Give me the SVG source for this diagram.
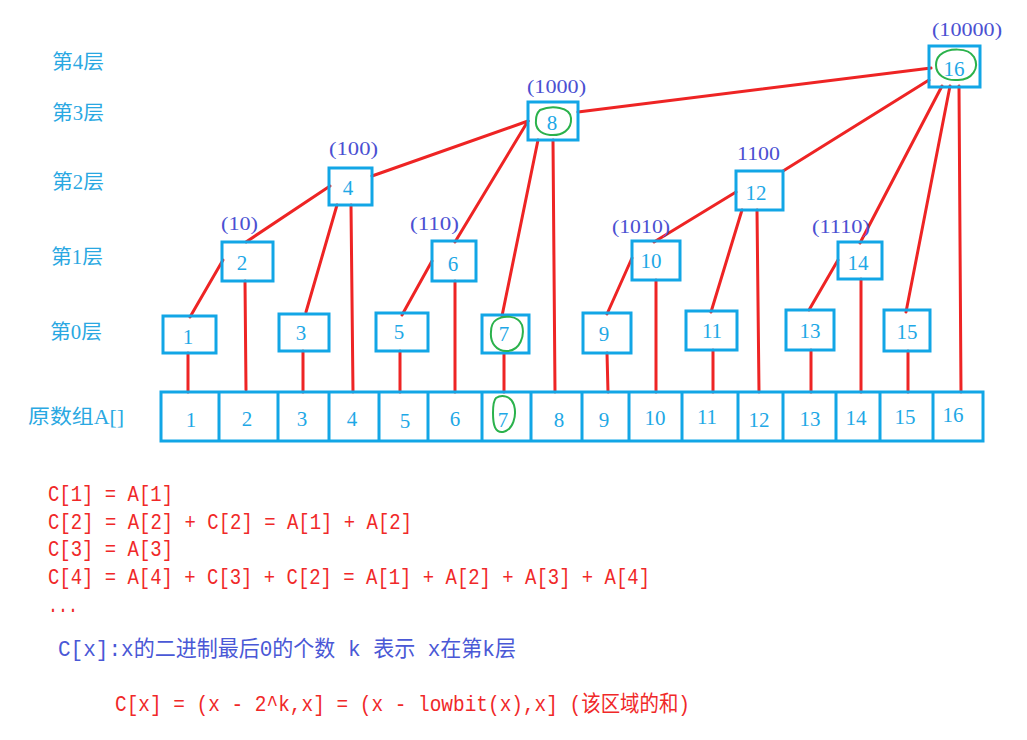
<svg xmlns="http://www.w3.org/2000/svg" width="1027" height="740" viewBox="0 0 1027 740">
<style>
.box{fill:none;stroke:#12a6e6;stroke-width:3}
.ln{stroke:#ee2424;stroke-width:3;stroke-linecap:round;fill:none}
.num{font-family:"Liberation Serif","Noto Sans CJK SC",serif;font-size:21px;fill:#1ea8e6;text-anchor:middle}
.bin{font-family:"Liberation Serif",serif;font-size:19px;fill:#4b50d2}
.lay{font-family:"Liberation Serif","Noto Sans CJK SC",serif;font-size:20px;fill:#2aa8e2}
.grn{fill:none;stroke:#2bb24c;stroke-width:2}
.code{font-family:"Liberation Mono","Noto Sans CJK SC",monospace;font-size:22px;fill:#f02828}
.codeb{font-family:"Liberation Mono","Noto Sans CJK SC",monospace;font-size:22px;fill:#4a58d6}
</style>
<rect width="1027" height="740" fill="#ffffff"/>
<g id="layer-labels">
<text class="lay" x="52" y="69" textLength="52" lengthAdjust="spacingAndGlyphs">第4层</text>
<text class="lay" x="52" y="120" textLength="52" lengthAdjust="spacingAndGlyphs">第3层</text>
<text class="lay" x="52" y="189" textLength="52" lengthAdjust="spacingAndGlyphs">第2层</text>
<text class="lay" x="51" y="264" textLength="52" lengthAdjust="spacingAndGlyphs">第1层</text>
<text class="lay" x="50" y="339" textLength="52" lengthAdjust="spacingAndGlyphs">第0层</text>
<text class="lay" x="28" y="424" textLength="96" lengthAdjust="spacingAndGlyphs">原数组A[]</text>
</g>
<g id="connectors">
<line class="ln" x1="931" y1="68" x2="578" y2="112"/>
<line class="ln" x1="929" y1="80" x2="783" y2="171"/>
<line class="ln" x1="942" y1="86" x2="860" y2="243"/>
<line class="ln" x1="950" y1="86" x2="906" y2="312"/>
<line class="ln" x1="959" y1="86" x2="961" y2="392"/>
<line class="ln" x1="372" y1="176" x2="528" y2="121"/>
<line class="ln" x1="455" y1="242" x2="528" y2="121"/>
<line class="ln" x1="538" y1="140" x2="502" y2="316"/>
<line class="ln" x1="553" y1="140" x2="555" y2="392"/>
<line class="ln" x1="330" y1="186" x2="246" y2="242"/>
<line class="ln" x1="337" y1="205" x2="306" y2="312"/>
<line class="ln" x1="351" y1="205" x2="353" y2="392"/>
<line class="ln" x1="223" y1="260" x2="190" y2="317"/>
<line class="ln" x1="245" y1="281" x2="246" y2="390"/>
<line class="ln" x1="188" y1="353" x2="188" y2="392"/>
<line class="ln" x1="303" y1="351" x2="303" y2="392"/>
<line class="ln" x1="432" y1="261" x2="402" y2="315"/>
<line class="ln" x1="455" y1="281" x2="455" y2="392"/>
<line class="ln" x1="400" y1="351" x2="400" y2="392"/>
<line class="ln" x1="504" y1="353" x2="504" y2="392"/>
<line class="ln" x1="736" y1="192" x2="654" y2="242"/>
<line class="ln" x1="742" y1="210" x2="711" y2="312"/>
<line class="ln" x1="757" y1="210" x2="759" y2="392"/>
<line class="ln" x1="632" y1="258" x2="607" y2="314"/>
<line class="ln" x1="656" y1="280" x2="656" y2="392"/>
<line class="ln" x1="607" y1="353" x2="608" y2="392"/>
<line class="ln" x1="713" y1="350" x2="713" y2="392"/>
<line class="ln" x1="838" y1="260" x2="809" y2="310"/>
<line class="ln" x1="861" y1="279" x2="861" y2="392"/>
<line class="ln" x1="811" y1="350" x2="811" y2="392"/>
<line class="ln" x1="908" y1="351" x2="908" y2="392"/>
</g>
<g id="array">
<rect class="box" x="161" y="392" width="822" height="49"/>
<path class="box" d="M219 392V441M278 392V441M329 392V441M379 392V441M428 392V441M482 392V441M531 392V441M582 392V441M629 392V441M682 392V441M738 392V441M783 392V441M836 392V441M880 392V441M933 392V441"/>
<text class="num" x="191" y="427">1</text>
<text class="num" x="247" y="426">2</text>
<text class="num" x="302" y="426">3</text>
<text class="num" x="352" y="426">4</text>
<text class="num" x="405" y="428">5</text>
<text class="num" x="455" y="426">6</text>
<text class="num" x="503" y="427">7</text>
<text class="num" x="559" y="427">8</text>
<text class="num" x="604" y="427">9</text>
<text class="num" x="655" y="425">10</text>
<text class="num" x="707" y="424">11</text>
<text class="num" x="759" y="427">12</text>
<text class="num" x="810" y="426">13</text>
<text class="num" x="856" y="425">14</text>
<text class="num" x="905" y="424">15</text>
<text class="num" x="953" y="422">16</text>
</g>
<g id="node-16"><rect class="box" x="929" y="46" width="51" height="41"/><text class="num" x="954" y="76">16</text><text class="bin" x="932" y="36" textLength="70" lengthAdjust="spacingAndGlyphs">(10000)</text></g>
<g id="node-8"><rect class="box" x="528" y="102" width="50" height="38"/><text class="num" x="552" y="130">8</text><text class="bin" x="527" y="93" textLength="59" lengthAdjust="spacingAndGlyphs">(1000)</text></g>
<g id="node-4"><rect class="box" x="329" y="168" width="43" height="37"/><text class="num" x="348" y="195">4</text><text class="bin" x="329" y="155" textLength="49" lengthAdjust="spacingAndGlyphs">(100)</text></g>
<g id="node-12"><rect class="box" x="736" y="171" width="47" height="39"/><text class="num" x="756" y="200">12</text><text class="bin" x="737" y="160" textLength="43" lengthAdjust="spacingAndGlyphs">1100</text></g>
<g id="node-2"><rect class="box" x="222" y="242" width="51" height="39"/><text class="num" x="242" y="270">2</text><text class="bin" x="221" y="230" textLength="37" lengthAdjust="spacingAndGlyphs">(10)</text></g>
<g id="node-6"><rect class="box" x="432" y="241" width="44" height="40"/><text class="num" x="453" y="271">6</text><text class="bin" x="410" y="230" textLength="49" lengthAdjust="spacingAndGlyphs">(110)</text></g>
<g id="node-10"><rect class="box" x="632" y="241" width="48" height="39"/><text class="num" x="651" y="268">10</text><text class="bin" x="612" y="233" textLength="58" lengthAdjust="spacingAndGlyphs">(1010)</text></g>
<g id="node-14"><rect class="box" x="838" y="242" width="44" height="37"/><text class="num" x="858" y="270">14</text><text class="bin" x="812" y="233" textLength="58" lengthAdjust="spacingAndGlyphs">(1110)</text></g>
<g id="node-1"><rect class="box" x="163" y="316" width="53" height="37"/><text class="num" x="188" y="344">1</text></g>
<g id="node-3"><rect class="box" x="279" y="314" width="50" height="37"/><text class="num" x="301" y="340">3</text></g>
<g id="node-5"><rect class="box" x="376" y="313" width="52" height="38"/><text class="num" x="399" y="339">5</text></g>
<g id="node-7"><rect class="box" x="482" y="315" width="47" height="38"/><text class="num" x="504" y="341">7</text></g>
<g id="node-9"><rect class="box" x="583" y="313" width="48" height="40"/><text class="num" x="604" y="341">9</text></g>
<g id="node-11"><rect class="box" x="686" y="311" width="51" height="39"/><text class="num" x="712" y="338">11</text></g>
<g id="node-13"><rect class="box" x="786" y="310" width="48" height="40"/><text class="num" x="810" y="338">13</text></g>
<g id="node-15"><rect class="box" x="884" y="310" width="46" height="41"/><text class="num" x="907" y="339">15</text></g>
<g id="highlights">
<path class="grn" d="M540 110 C552 105 570 107 571 118 C572 130 562 136 550 135 C540 134 535 128 536 120 C536 115 538 112 540 110 Z"/>
<path class="grn" d="M940 55 C948 48 968 47 974 57 C980 68 972 80 958 80 C944 81 936 74 936 65 C936 60 938 57 940 55 Z"/>
<path class="grn" d="M496 320 C503 315 518 315 522 325 C525 336 520 350 508 351 C496 352 490 342 491 332 C491 326 493 322 496 320 Z"/>
<path class="grn" d="M496 398 C502 394 511 396 514 405 C517 416 513 430 503 432 C495 433 493 425 493 413 C493 406 494 400 496 398 Z"/>
</g>
<g id="formulas">
<text class="code" x="48" y="501" textLength="125" lengthAdjust="spacingAndGlyphs">C[1] = A[1]</text>
<text class="code" x="48" y="529" textLength="364" lengthAdjust="spacingAndGlyphs">C[2] = A[2] + C[2] = A[1] + A[2]</text>
<text class="code" x="48" y="556" textLength="125" lengthAdjust="spacingAndGlyphs">C[3] = A[3]</text>
<text class="code" x="48" y="584" textLength="602" lengthAdjust="spacingAndGlyphs">C[4] = A[4] + C[3] + C[2] = A[1] + A[2] + A[3] + A[4]</text>
<text class="code" x="48" y="612" textLength="30" lengthAdjust="spacingAndGlyphs">...</text>
<text class="codeb" x="58" y="656" textLength="458" lengthAdjust="spacingAndGlyphs">C[x]:x的二进制最后0的个数 k 表示 x在第k层</text>
<text class="code" x="115" y="711" textLength="575" lengthAdjust="spacingAndGlyphs">C[x] = (x - 2^k,x] = (x - lowbit(x),x] (该区域的和)</text>
</g>
</svg>
